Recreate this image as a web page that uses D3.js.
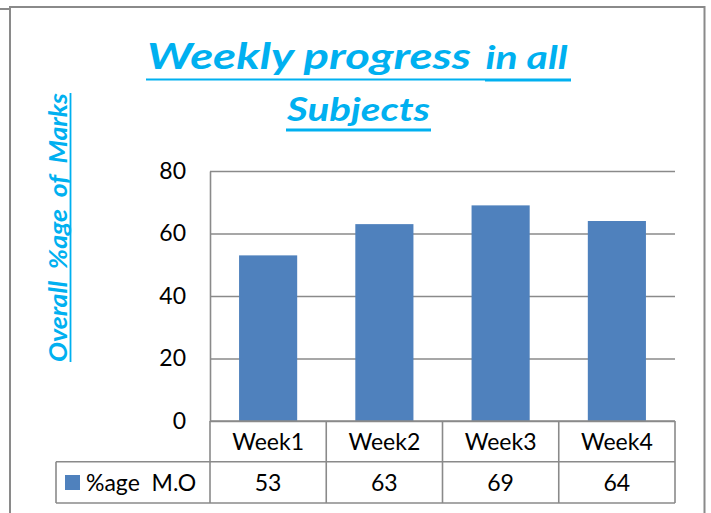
<!DOCTYPE html>
<html>
<head>
<meta charset="utf-8">
<script src="https://cdn.jsdelivr.net/npm/d3@7"></script>
<style>
  html, body { margin: 0; padding: 0; background: #fff; }
  svg { display: block; }
  text { font-family: Lato, "Open Sans", "Liberation Sans", sans-serif; }
</style>
</head>
<body>
<svg id="chart" width="711" height="513"></svg>
<script>
const categories = ["Week1", "Week2", "Week3", "Week4"];
const values = [53, 63, 69, 64];
const seriesName = "%age  M.O";
const yTicks = [0, 20, 40, 60, 80];
const titleMain = "Weekly progress";
const titleTail = "in all";
const titleLine2 = "Subjects";
const yTitle = "Overall  %age  of  Marks";

const W = 711, H = 513;
const svg = d3.select("#chart");
svg.append("rect").attr("width", W).attr("height", H).attr("fill", "#fff");

const gray = "#8a8a8a";
const cyan = "#00B0F0";
const barColor = "#4F81BD";

// outer frames
svg.append("line").attr("x1", 0).attr("x2", 10).attr("y1", 9).attr("y2", 9)
  .attr("stroke", gray).attr("stroke-width", 2);
svg.append("path").attr("d", "M10,520 V7 H704.5 V520")
  .attr("fill", "none").attr("stroke", gray).attr("stroke-width", 2);

const plotL = 210, plotR = 675, plotT = 171, plotB = 421;
const row1B = 461.7, row2B = 503, legendL = 56;

const x = d3.scaleBand().domain(categories).range([plotL, plotR]).paddingInner(0.5).paddingOuter(0.25);
const xc = d3.scaleBand().domain(categories).range([plotL, plotR]);
const y = d3.scaleLinear().domain([0, 80]).range([plotB, plotT]);

// gridlines + y axis
const yAxis = d3.axisLeft(y).tickValues(yTicks).tickSizeInner(-(plotR - plotL)).tickSizeOuter(0).tickPadding(24);
const gy = svg.append("g").attr("transform", `translate(${plotL},0)`).call(yAxis);
gy.selectAll(".tick line").attr("stroke", gray).attr("stroke-width", 1.6);
gy.select(".domain").attr("stroke", gray).attr("stroke-width", 1.6);
gy.selectAll(".tick text").attr("font-size", 23).attr("fill", "#000")
  .style("font-family", "Lato, 'Open Sans', sans-serif");

// bars
svg.append("g").selectAll("rect").data(values).join("rect")
  .attr("x", (d, i) => x(categories[i]))
  .attr("width", x.bandwidth())
  .attr("y", d => y(d))
  .attr("height", d => y(0) - y(d))
  .attr("fill", barColor);

// data table
const tg = svg.append("g").attr("stroke", gray).attr("stroke-width", 1.6);
tg.append("line").attr("x1", plotL).attr("x2", plotR).attr("y1", plotB).attr("y2", plotB);
tg.append("line").attr("x1", legendL).attr("x2", plotR).attr("y1", row1B).attr("y2", row1B);
tg.append("line").attr("x1", legendL).attr("x2", plotR).attr("y1", row2B).attr("y2", row2B);
tg.append("line").attr("x1", legendL).attr("x2", legendL).attr("y1", row1B).attr("y2", row2B);
const vx = categories.map(c => xc(c)).concat([plotR]);
tg.selectAll(".v").data(vx).join("line").attr("class", "v")
  .attr("x1", d => d).attr("x2", d => d).attr("y1", plotB).attr("y2", row2B);

svg.append("g").selectAll("text").data(categories).join("text")
  .attr("x", d => xc(d) + xc.bandwidth() / 2)
  .attr("y", 449.5)
  .attr("text-anchor", "middle").attr("font-size", 23).attr("fill", "#000")
  .text(d => d);
svg.append("g").selectAll("text").data(values).join("text")
  .attr("x", (d, i) => xc(categories[i]) + xc.bandwidth() / 2)
  .attr("y", 490.5)
  .attr("text-anchor", "middle").attr("font-size", 23).attr("fill", "#000")
  .text(d => d);

// legend
svg.append("rect").attr("x", 65).attr("y", 475).attr("width", 15).attr("height", 15).attr("fill", barColor);
svg.append("text").attr("x", 86).attr("y", 490.5).attr("font-size", 23).attr("fill", "#000")
  .style("white-space", "pre").text(seriesName);

// titles: font size set by glyph height, stretched horizontally to the measured width
function placeStretched(sel, x0, y0, w, rot) {
  const l = sel.node().getComputedTextLength();
  const s = w / l;
  sel.attr("transform", `translate(${x0},${y0})${rot ? " rotate(-90)" : ""} scale(${s},1)`);
}
const tstyle = s => s.attr("fill", cyan).attr("font-weight", "bold").attr("font-style", "italic");

const t1 = svg.append("text").attr("font-size", 37).call(tstyle).text(titleMain);
placeStretched(t1, 147, 69.3, 324);
const t2 = svg.append("text").attr("font-size", 33).call(tstyle).text(titleTail);
placeStretched(t2, 485.5, 69.3, 82);
svg.append("line").attr("x1", 146).attr("x2", 485).attr("y1", 79.5).attr("y2", 79.5)
  .attr("stroke", cyan).attr("stroke-width", 2.2);
svg.append("line").attr("x1", 485).attr("x2", 571).attr("y1", 80).attr("y2", 80)
  .attr("stroke", cyan).attr("stroke-width", 3);
const t3 = svg.append("text").attr("font-size", 32.5).call(tstyle).text(titleLine2);
placeStretched(t3, 287, 120.5, 143);
svg.append("line").attr("x1", 286).attr("x2", 431).attr("y1", 130).attr("y2", 130)
  .attr("stroke", cyan).attr("stroke-width", 2.8);

// y title
const ytc = (93 + 362) / 2;
const yt = svg.append("text").attr("text-anchor", "middle").attr("font-size", 25).call(tstyle)
  .style("white-space", "pre").text(yTitle);
placeStretched(yt, 66.5, ytc, 269, true);
svg.append("line").attr("x1", 70.5).attr("x2", 70.5).attr("y1", 93).attr("y2", 362)
  .attr("stroke", cyan).attr("stroke-width", 1.8);
</script>
</body>
</html>
